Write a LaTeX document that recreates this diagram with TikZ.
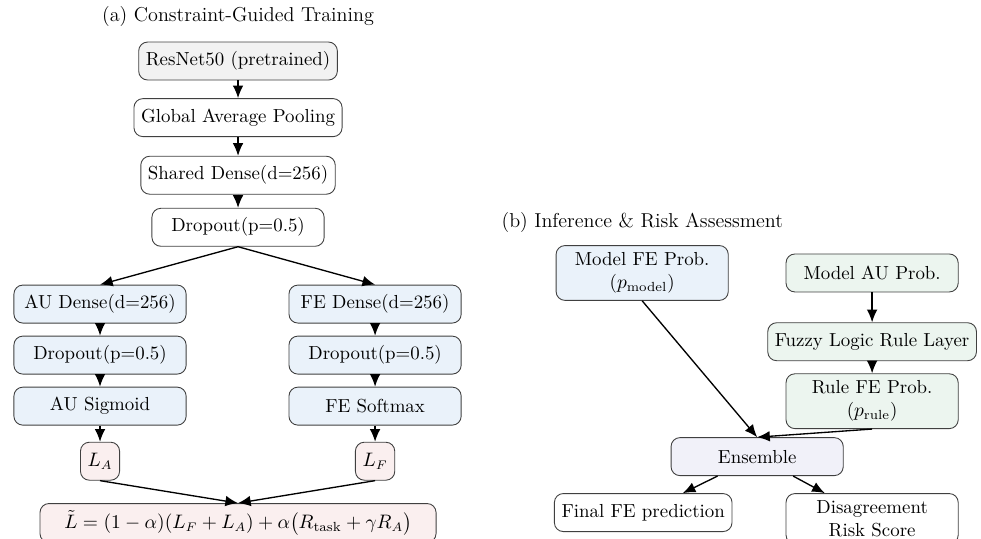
\documentclass[tikz,border=0pt]{standalone}
\usepackage{amsmath, amssymb}
\usepackage{tikz}
\usetikzlibrary{arrows.meta, positioning}
\definecolor{bbgray}{RGB}{242,242,242}
\definecolor{headblue}{RGB}{234,242,250}
\definecolor{losspink}{RGB}{250,239,239}
\definecolor{rulegreen}{RGB}{236,245,239}
\definecolor{enslav}{RGB}{241,241,249}
\tikzset{layer/.style={rectangle,draw=black!75,line width=0.5pt,rounded corners=5pt,align=center,minimum width=3.4cm,minimum height=0.75cm,inner sep=4pt},
         backbone/.style={layer,fill=bbgray},
         head/.style={layer,fill=headblue},
         loss/.style={layer,fill=losspink,minimum width=0.75cm},
         rulebox/.style={layer,fill=rulegreen},
         ensbox/.style={layer,fill=enslav},
         paneltitle/.style={font=\fontsize{11.3pt}{13.5pt}\selectfont},
         arrow/.style={-{Latex[length=2.5mm,width=2.1mm]},line width=0.75pt}}

\begin{document}
\begin{tikzpicture}[font=\fontsize{10.6pt}{12.8pt}\selectfont]
    \useasboundingbox (0,0) rectangle (19.37,-10.63);
    % (a) training
    \node (ttla) [paneltitle] at (4.70,-0.32) {(a) Constraint-Guided Training};
    \node (res) [backbone] at (4.70,-1.205) {ResNet50 (pretrained)};
    \node (gap) [layer, below=0.35cm of res] {Global Average Pooling};
    \node (shd) [layer, below=0.37cm of gap] {Shared Dense(d=256)};
    \node (drp) [layer, below=0.26cm of shd] {Dropout(p=0.5)};
    \node (aud) [head] at (1.975,-6.004) {AU Dense(d=256)};
    \node (audrp) [head, below=0.24cm of aud] {Dropout(p=0.5)};
    \node (ausig) [head, below=0.24cm of audrp] {AU Sigmoid};
    \node (la) [loss, below=0.32cm of ausig] {$L_A$};
    \node (fed) [head] at (7.406,-6.004) {FE Dense(d=256)};
    \node (fedrp) [head, below=0.24cm of fed] {Dropout(p=0.5)};
    \node (fesm) [head, below=0.24cm of fedrp] {FE Softmax};
    \node (lf) [loss, below=0.32cm of fesm] {$L_F$};
    \node (tot) [loss, anchor=north, minimum width=7.82cm] at (4.70,-9.934) {$\tilde{L} = (1-\alpha)(L_F + L_A) + \alpha\big(R_{\text{task}} + \gamma R_A\big)$};
    \foreach \i/\j in {res/gap,gap/shd,shd/drp,drp/aud,drp/fed,aud/audrp,audrp/ausig,ausig/la,fed/fedrp,fedrp/fesm,fesm/lf,la/tot,lf/tot} {\draw[arrow] (\i.south) -- (\j.north);}
    % (b) inference
    \node (ttlb) [paneltitle, anchor=west] at (9.78,-4.40) {(b) Inference \& Risk Assessment};
    \node (mfe) [head] at (12.68,-5.39) {Model FE Prob.\\($p_{\text{model}}$)};
    \node (mau) [rulebox] at (17.22,-5.39) {Model AU Prob.};
    \node (fzy) [rulebox, below=0.59cm of mau] {Fuzzy Logic Rule Layer};
    \node (rfe) [rulebox, below=0.24cm of fzy] {Rule FE Prob.\\($p_{\text{rule}}$)};
    \node (ens) [ensbox] at (14.95,-9.016) {Ensemble};
    \node (fin) [layer, anchor=north] at (12.70,-9.737) {Final FE prediction};
    \node (dis) [layer, anchor=north] at (17.22,-9.737) {Disagreement\\Risk Score};
    \foreach \i/\j in {mau/fzy,fzy/rfe,mfe/ens,rfe/ens} {\draw[arrow] (\i.south) -- (\j.north);}
    \foreach \j in {fin,dis} {\draw[arrow] (ens) -- (\j);}
\end{tikzpicture}
\end{document}
